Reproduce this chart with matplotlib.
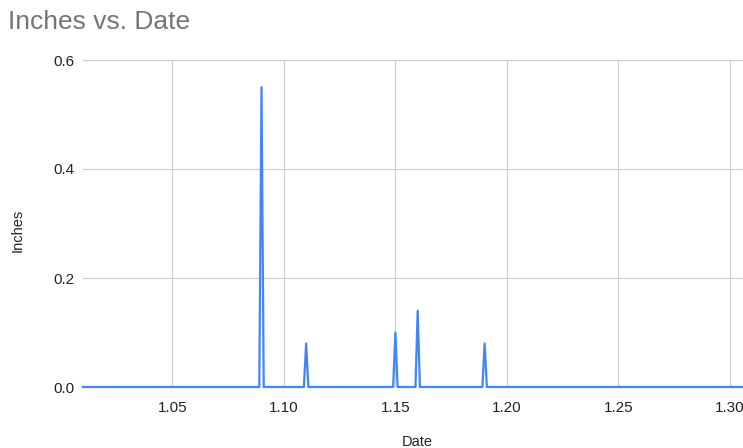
import matplotlib
matplotlib.use('Agg')
import matplotlib.pyplot as plt

# daily rainfall readings, dates written as month.day
dates = [1.01, 1.089, 1.09, 1.091, 1.109, 1.11, 1.111, 1.149, 1.15, 1.151,
         1.159, 1.16, 1.161, 1.189, 1.19, 1.191, 1.31]
inches = [0, 0, 0.55, 0, 0, 0.08, 0, 0, 0.10, 0,
          0, 0.14, 0, 0, 0.08, 0, 0]

xticks = [1.05, 1.10, 1.15, 1.20, 1.25, 1.30]
yticks = [0.0, 0.2, 0.4, 0.6]

plt.rcParams['font.family'] = ['Liberation Sans', 'DejaVu Sans']

fig = plt.figure(figsize=(7.43, 4.48), dpi=100)
ax = fig.add_axes([83 / 743, 1 - 387 / 448, 1 - 83 / 743, (387 - 60) / 448])

ax.plot(dates, inches, color='#4285F4', linewidth=1.6, zorder=3, clip_on=False)

ax.set_xlim(1.01, 1.3058)
ax.set_ylim(0, 0.6)
ax.set_xticks(xticks)
ax.set_xticklabels(['%.2f' % t for t in xticks])
ax.set_yticks(yticks)
ax.set_yticklabels(['%.1f' % t for t in yticks])

ax.grid(True, color='#cccccc', linewidth=0.8)
ax.set_axisbelow(True)
for s in ax.spines.values():
    s.set_visible(False)
ax.tick_params(length=0, labelsize=11, labelcolor='#222222')
ax.tick_params(axis='x', pad=10)
ax.tick_params(axis='y', pad=6)

fig.text(8 / 743, 1 - 22 / 448, 'Inches vs. Date', fontsize=19,
         color='#757575', ha='left', va='center')
fig.text(17.5 / 743, 1 - 230 / 448, 'Inches', fontsize=10.5, color='#222222',
         rotation=90, ha='center', va='center')
fig.text(417 / 743, 1 - 442 / 448, 'Date', fontsize=10.5, color='#222222',
         ha='center', va='center')

fig.savefig('out.png', dpi=100)
